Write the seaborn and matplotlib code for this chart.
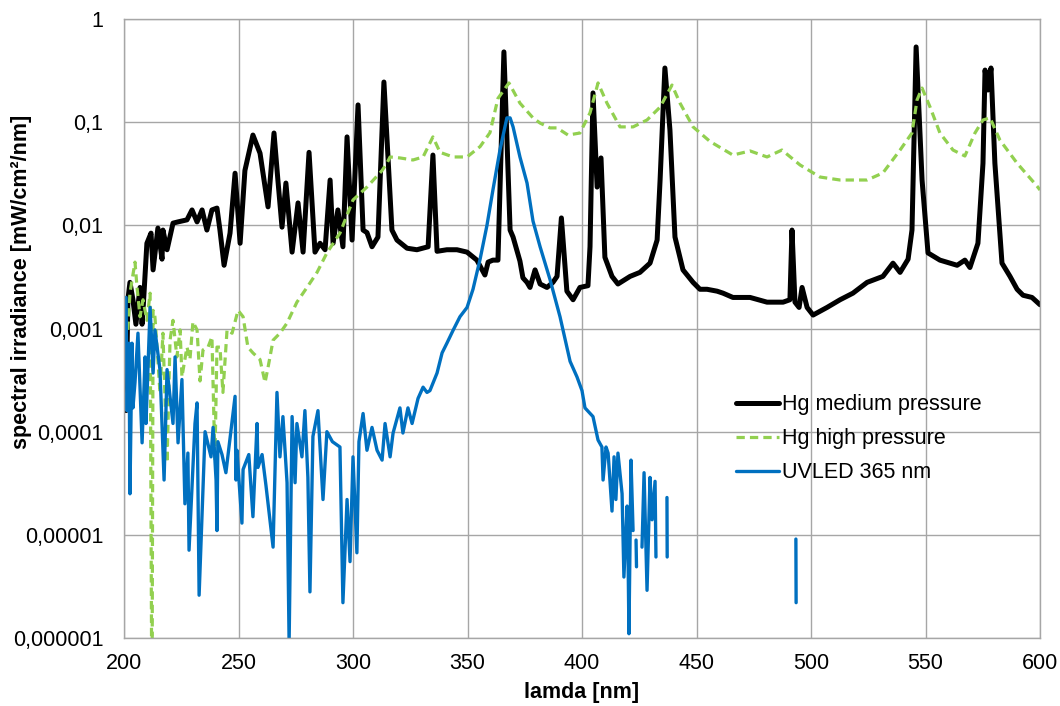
import numpy as np
import pandas as pd
import matplotlib
matplotlib.use("Agg")
import matplotlib.pyplot as plt
import seaborn as sns
from matplotlib.ticker import FixedLocator, FixedFormatter, NullLocator

# ---------------- data ----------------
hg_medium_nm = [
    200.9, 201.7, 202.6, 203.9, 205.2, 207.0, 207.9, 208.3, 210.0, 211.8,
    212.7, 214.8, 216.6, 217.0, 218.8, 220.1, 221.4, 223.6, 227.5, 229.7,
    231.9, 234.1, 236.2, 238.4, 240.6, 241.9, 243.7, 246.3, 248.5, 250.7,
    252.8, 256.3, 259.4, 262.9, 265.5, 267.2, 269.0, 270.7, 273.4, 276.0,
    278.2, 280.8, 283.4, 285.6, 287.8, 290.0, 291.3, 293.4, 295.6, 297.4,
    299.6, 302.2, 304.4, 306.1, 308.3, 310.9, 313.5, 317.0, 319.2, 323.6,
    327.9, 332.8, 334.9, 336.7, 341.0, 345.4, 349.8, 354.1, 357.6, 359.0,
    361.1, 363.3, 365.9, 368.6, 369.9, 372.9, 374.2, 376.0, 377.3, 379.5,
    381.7, 384.7, 387.3, 389.1, 391.0, 393.4, 396.1, 399.1, 402.6, 403.5,
    404.8, 406.6, 408.3, 410.0, 413.1, 415.7, 421.0, 425.3, 429.7, 432.8,
    434.1, 436.2, 438.4, 440.6, 444.1, 448.5, 451.5, 454.6, 459.0, 461.6,
    465.9, 469.0, 473.4, 480.8, 487.8, 490.8, 491.7, 493.0, 494.8, 496.1,
    498.3, 500.9, 507.0, 512.7, 518.3, 524.5, 531.4, 535.8, 538.9, 542.4,
    544.1, 545.9, 548.5, 551.1, 556.3, 563.8, 567.2, 569.4, 572.9, 575.1,
    576.0, 577.3, 578.6, 580.3, 583.4, 586.9, 590.0, 592.6, 596.5, 600.0,
]
hg_medium_irr = [
    1.6e-4, 1.9e-3, 2.8e-3, 1.9e-3, 1.1e-3, 2.5e-3, 1.1e-3, 1.5e-3, 6.7e-3, 8.4e-3,
    3.7e-3, 9.4e-3, 4.7e-3, 9.0e-3, 5.8e-3, 7.8e-3, 1.05e-2, 1.08e-2, 1.13e-2, 1.41e-2,
    1.08e-2, 1.41e-2, 9.0e-3, 1.41e-2, 1.47e-2, 9.0e-3, 4.1e-3, 8.4e-3, 3.2e-2, 6.7e-3,
    3.4e-2, 7.5e-2, 5.0e-2, 1.51e-2, 7.85e-2, 2.75e-2, 9.6e-3, 2.57e-2, 5.5e-3, 1.65e-2,
    5.5e-3, 5.1e-2, 5.5e-3, 6.7e-3, 5.8e-3, 2.75e-2, 6.7e-3, 1.41e-2, 6.2e-3, 7.2e-2,
    7.2e-3, 1.47e-1, 9.0e-3, 8.5e-3, 6.2e-3, 7.7e-3, 2.45e-1, 9.0e-3, 7.2e-3, 6.0e-3,
    5.8e-3, 6.2e-3, 4.8e-2, 5.6e-3, 5.8e-3, 5.8e-3, 5.5e-3, 4.6e-3, 3.3e-3, 4.4e-3,
    4.6e-3, 4.6e-3, 4.8e-1, 9.0e-3, 7.7e-3, 4.5e-3, 3.1e-3, 2.8e-3, 2.5e-3, 3.7e-3,
    2.7e-3, 2.5e-3, 2.8e-3, 3.2e-3, 1.18e-2, 2.3e-3, 1.9e-3, 2.5e-3, 2.6e-3, 6.2e-3,
    1.92e-1, 2.35e-2, 4.5e-2, 4.9e-3, 3.2e-3, 2.7e-3, 3.2e-3, 3.5e-3, 4.3e-3, 7.2e-3,
    2.75e-2, 3.35e-1, 8.4e-2, 7.7e-3, 3.7e-3, 2.8e-3, 2.4e-3, 2.4e-3, 2.3e-3, 2.2e-3,
    2.0e-3, 2.0e-3, 2.0e-3, 1.8e-3, 1.8e-3, 1.9e-3, 9.0e-3, 1.8e-3, 1.6e-3, 2.5e-3,
    1.6e-3, 1.35e-3, 1.6e-3, 1.9e-3, 2.2e-3, 2.8e-3, 3.2e-3, 4.3e-3, 3.5e-3, 4.7e-3,
    9.0e-3, 5.36e-1, 2.75e-2, 5.4e-3, 4.6e-3, 4.1e-3, 4.6e-3, 3.9e-3, 6.7e-3, 4.0e-2,
    3.2e-1, 2.05e-1, 3.35e-1, 4.0e-2, 4.3e-3, 3.2e-3, 2.4e-3, 2.1e-3, 2.0e-3, 1.7e-3,
]

hg_high_nm = [
    201.7, 202.6, 204.8, 205.7, 207.0, 208.3, 210.0, 211.4, 212.2, 212.7,
    213.5, 214.8, 215.7, 217.0, 218.8, 220.1, 221.4, 223.1, 224.5, 225.3,
    227.5, 228.8, 230.1, 231.9, 233.2, 234.5, 236.7, 238.4, 239.7, 240.6,
    241.9, 243.2, 245.0, 247.2, 249.8, 252.0, 254.1, 256.3, 259.4, 261.6,
    262.9, 265.1, 268.1, 271.2, 275.5, 279.9, 284.3, 288.6, 294.3, 300.0,
    306.1, 312.7, 314.8, 316.2, 320.5, 326.2, 330.6, 334.9, 338.0, 343.7,
    349.8, 355.5, 359.8, 363.3, 368.1, 372.9, 378.6, 381.7, 386.0, 389.1,
    393.9, 399.1, 403.5, 407.0, 410.9, 416.6, 422.3, 428.4, 432.8, 434.1,
    439.3, 442.8, 448.5, 455.9, 465.9, 473.4, 480.8, 487.3, 495.2, 503.9,
    512.7, 524.5, 531.4, 538.9, 544.1, 546.3, 548.5, 552.0, 556.3, 562.0,
    567.2, 571.6, 575.1, 578.2, 582.5, 590.0, 598.7, 600.0,
]
hg_high_irr = [
    9.7e-4, 2.2e-3, 4.4e-3, 2.5e-3, 1.3e-3, 1.9e-3, 1.2e-3, 2.2e-3, 1.0e-7, 1.5e-3,
    1.3e-3, 5.0e-4, 2.4e-4, 9.0e-4, 5.0e-5, 7.7e-4, 1.2e-3, 5.3e-4, 9.7e-4, 3.4e-4,
    6.6e-4, 5.0e-4, 1.16e-3, 9.7e-4, 3.1e-4, 6.2e-4, 6.6e-4, 8.3e-4, 5.3e-5, 6.6e-4,
    6.6e-4, 2.4e-4, 9.7e-4, 9.0e-4, 1.5e-3, 1.3e-3, 6.6e-4, 5.8e-4, 5.0e-4, 3.0e-4,
    4.2e-4, 7.7e-4, 9.0e-4, 1.13e-3, 1.8e-3, 2.5e-3, 3.5e-3, 5.4e-3, 8.4e-3, 1.76e-2,
    2.35e-2, 3.4e-2, 4.0e-2, 4.6e-2, 4.5e-2, 4.3e-2, 4.6e-2, 7.2e-2, 5.1e-2, 4.6e-2,
    4.6e-2, 5.8e-2, 7.9e-2, 1.7e-1, 2.4e-1, 1.53e-1, 1.1e-1, 9.8e-2, 8.8e-2, 8.8e-2,
    7.5e-2, 7.85e-2, 1.23e-1, 2.4e-1, 1.53e-1, 9.0e-2, 9.0e-2, 1.05e-1, 1.31e-1, 1.4e-1,
    2.29e-1, 1.53e-1, 9.0e-2, 6.5e-2, 4.8e-2, 5.26e-2, 4.6e-2, 5.37e-2, 3.85e-2, 2.94e-2,
    2.75e-2, 2.75e-2, 3.22e-2, 5.37e-2, 7.85e-2, 1.64e-1, 2.14e-1, 1.4e-1, 7.85e-2, 5.37e-2,
    4.7e-2, 7.85e-2, 1.05e-1, 1.1e-1, 6.7e-2, 4.0e-2, 2.4e-2, 2.2e-2,
]

nan = float("nan")  # gaps in the LED record
uvled_nm = [
    200.9, 201.3, 202.2, 202.6, 203.5, 203.9, 204.8, 206.1, 207.9, 209.2,
    209.6, 211.4, 212.7, 213.5, 215.7, 217.5, 218.8, 221.4, 222.3, 223.6,
    225.3, 226.6, 227.9, 228.4, 231.0, 231.9, 232.8, 235.4, 238.0, 238.9,
    240.2, 240.6, 241.0, 242.8, 244.5, 248.5, 248.9, 249.3, 251.5, 252.0,
    254.5, 256.3, 258.1, 258.5, 260.3, 262.0, 265.1, 266.8, 268.1, 269.4,
    271.2, 272.1, 273.4, 274.7, 275.5, 277.7, 279.0, 280.3, 281.2, 282.5,
    284.7, 286.9, 288.6, 291.0, 294.3, 295.6, 297.4, 298.7, 300.0, 301.7,
    302.6, 304.4, 306.1, 308.3, 310.5, 312.7, 314.0, 316.2, 317.5, 320.5,
    321.8, 324.0, 325.8, 328.4, 330.6, 332.3, 333.6, 336.7, 338.9, 341.0,
    343.7, 346.7, 349.8, 352.4, 355.5, 358.5, 361.1, 364.2, 367.2, 368.6,
    369.9, 372.9, 376.0, 378.6, 381.7, 386.0, 390.4, 394.8, 397.8, 400.0,
    401.3, 404.8, 407.0, 408.7, 409.2, 410.5, 411.4, 413.1, 414.0, 414.8,
    415.7, 417.5, 418.3, 419.7, 420.1, 420.5, 421.4, 422.3, 422.9, 423.6,
    423.8, 424.5, 426.2, 427.1, 428.4, 429.7, 430.6, 431.9, 432.3, 434.0,
    437.1, 437.2, 465.0, 493.4, 493.5,
]
uvled_irr = [
    2.0e-3, 1.6e-4, 7.2e-4, 2.5e-5, 7.2e-4, 1.7e-4, 3.0e-4, 9.0e-4, 7.8e-5, 5.3e-4,
    1.2e-4, 1.6e-3, 3.7e-4, 9.7e-4, 4.0e-4, 3.4e-5, 4.0e-4, 1.2e-4, 5.3e-4, 7.8e-5,
    3.2e-4, 2.0e-5, 6.2e-5, 7.1e-6, 1.2e-4, 1.9e-4, 2.6e-6, 1.0e-4, 5.7e-5, 1.1e-4,
    3.4e-5, 1.1e-5, 8.0e-5, 6.0e-5, 4.0e-5, 2.2e-4, 3.4e-5, 6.6e-5, 1.3e-5, 4.3e-5,
    6.0e-5, 1.5e-5, 1.2e-4, 4.5e-5, 6.0e-5, 3.0e-5, 7.6e-6, 2.4e-4, 5.7e-5, 1.4e-4,
    3.2e-5, 9.0e-7, 1.4e-4, 3.2e-5, 1.2e-4, 5.7e-5, 1.6e-4, 3.6e-5, 2.8e-6, 9.0e-5,
    1.6e-4, 2.2e-5, 1.0e-4, 8.0e-5, 7.1e-5, 2.2e-6, 2.2e-5, 5.5e-6, 5.7e-5, 6.7e-6,
    8.0e-5, 1.5e-4, 6.6e-5, 1.1e-4, 6.6e-5, 5.3e-5, 1.2e-4, 5.7e-5, 9.7e-5, 1.7e-4,
    9.7e-5, 1.7e-4, 1.2e-4, 2.1e-4, 2.7e-4, 2.4e-4, 2.5e-4, 3.7e-4, 5.8e-4, 7.2e-4,
    9.6e-4, 1.3e-3, 1.6e-3, 2.4e-3, 4.7e-3, 1.0e-2, 2.2e-2, 5.4e-2, 1.1e-1, 1.1e-1,
    9.0e-2, 4.6e-2, 2.57e-2, 1.1e-2, 6.2e-3, 3.0e-3, 1.3e-3, 4.8e-4, 3.4e-4, 2.5e-4,
    1.7e-4, 1.4e-4, 8.3e-5, 7.1e-5, 3.4e-5, 7.1e-5, 6.2e-5, 1.7e-5, 5.7e-5, 2.2e-5,
    6.2e-5, 2.5e-5, 3.9e-6, 1.9e-5, 6.7e-6, 1.1e-6, 5.3e-5, 1.1e-5, nan, 8.9e-6,
    4.9e-6, nan, 7.6e-6, 4.0e-5, 2.9e-6, 3.6e-5, 1.4e-5, 3.3e-5, 6.1e-6, nan,
    2.3e-5, 6.1e-6, nan, 9.1e-6, 2.2e-6,
]

series_names = ["Hg medium pressure", "Hg high pressure", "UVLED 365 nm"]
x_ticks = [200, 250, 300, 350, 400, 450, 500, 550, 600]
y_ticks = [1e-6, 1e-5, 1e-4, 1e-3, 1e-2, 1e-1, 1]
y_tick_labels = ["0,000001", "0,00001", "0,0001", "0,001", "0,01", "0,1", "1"]
x_label = "lamda [nm]"
y_label = "spectral irradiance [mW/cm²/nm]"


def to_frame(nm, irr, name):
    df = pd.DataFrame({"lamda": nm, "irr": irr})
    df["segment"] = df["irr"].isna().cumsum()
    df = df.dropna().copy()
    df["series"] = name
    return df


frames = [
    to_frame(hg_medium_nm, hg_medium_irr, series_names[0]),
    to_frame(hg_high_nm, hg_high_irr, series_names[1]),
    to_frame(uvled_nm, uvled_irr, series_names[2]),
]

# ---------------- style ----------------
sns.set_theme(style="white")
plt.rcParams["font.family"] = ["Liberation Sans", "DejaVu Sans"]
plt.rcParams["text.color"] = "black"
plt.rcParams["axes.labelcolor"] = "black"
plt.rcParams["xtick.color"] = "black"
plt.rcParams["ytick.color"] = "black"

fig = plt.figure(figsize=(10.6, 7.06), dpi=100)
ax = fig.add_axes([124 / 1060, 68 / 706, 916 / 1060, 619 / 706])
ax.set_yscale("log")

styles = [
    dict(color="#000000", lw=3.6, linestyle="-",
         solid_joinstyle="round", solid_capstyle="round"),
    dict(color="#92D050", lw=2.3, linestyle=(0, (2.6, 1.6))),
    dict(color="#0070C0", lw=2.4, linestyle="-",
         solid_joinstyle="round", solid_capstyle="round"),
]
for df, name, st in zip(frames, series_names, styles):
    sns.lineplot(data=df, x="lamda", y="irr", units="segment", estimator=None,
                 ax=ax, label=name, legend=False, **st)

ax.set_xlim(200, 600)
ax.set_ylim(1e-6, 1)
ax.xaxis.set_major_locator(FixedLocator(x_ticks))
ax.yaxis.set_major_locator(FixedLocator(y_ticks))
ax.yaxis.set_major_formatter(FixedFormatter(y_tick_labels))
ax.yaxis.set_minor_locator(NullLocator())
ax.xaxis.set_minor_locator(NullLocator())

ax.set_axisbelow(True)
ax.grid(True, which="major", color="#A6A6A6", lw=1.0)
for sp in ax.spines.values():
    sp.set_color("#A6A6A6")
    sp.set_linewidth(1.0)

ax.tick_params(axis="both", length=0, labelsize=15.5)
ax.tick_params(axis="y", pad=15)
ax.tick_params(axis="x", pad=11)

ax.set_xlabel(x_label, fontsize=15.5, fontweight="bold")
ax.set_ylabel(y_label, fontsize=15.5, fontweight="bold")
ax.xaxis.set_label_coords(0.499, -0.071)
ax.yaxis.set_label_coords(-0.1004, 0.575)

handles, labels = ax.get_legend_handles_labels()
uniq = dict(zip(labels, handles))
ax.legend([uniq[n] for n in series_names], series_names, frameon=False,
          loc="center left", bbox_to_anchor=(0.647, 0.322), fontsize=15.5,
          handlelength=2.0, handletextpad=0.12, labelspacing=0.6,
          borderpad=0.4)

fig.savefig("out.png", dpi=100)
